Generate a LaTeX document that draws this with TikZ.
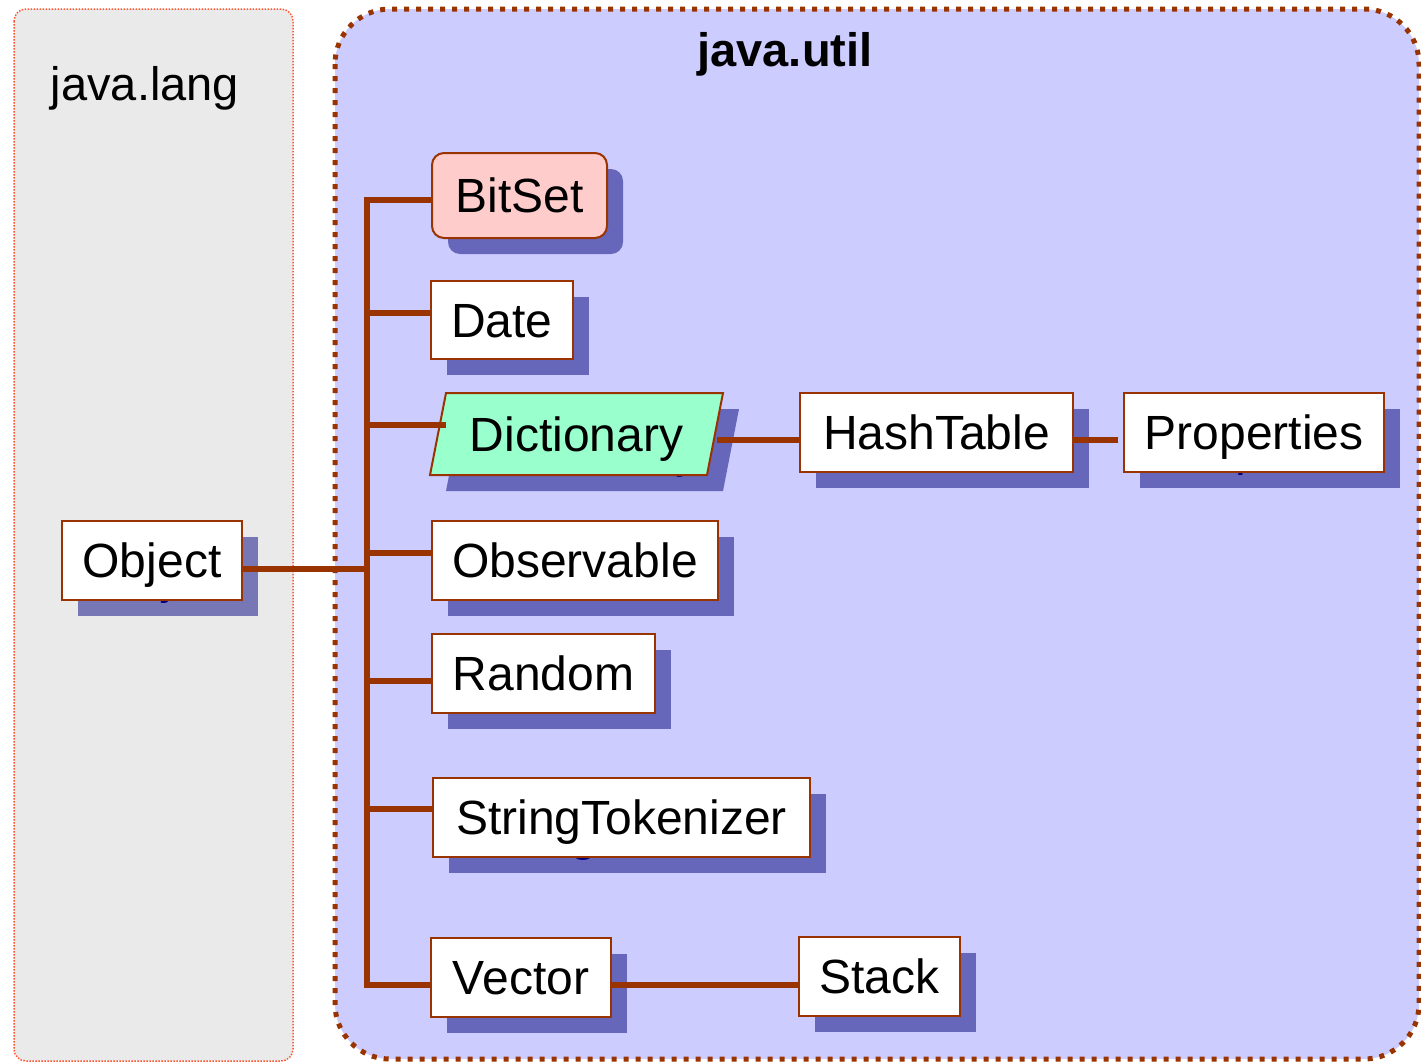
\documentclass[tikz,border=0pt]{standalone}
\usepackage{fontspec}
\setmainfont{Liberation Sans}

\definecolor{wire}{HTML}{993300}
\definecolor{langfill}{HTML}{EAEAEA}
\definecolor{langline}{HTML}{FF5533}
\definecolor{utilfill}{HTML}{CCCCFF}
\definecolor{shadowblue}{HTML}{6666BB}
\definecolor{shadowgray}{HTML}{7777B5}
\definecolor{navytext}{HTML}{000080}
\definecolor{bitsetfill}{HTML}{FFCCCC}
\definecolor{dictfill}{HTML}{99FFCC}

\tikzset{
  wire/.style={draw=wire, line width=5.5pt},
  pkgtitle/.style={font=\fontsize{47}{47}\selectfont, anchor=base, inner sep=0pt},
  boxtext/.style={font=\fontsize{48}{48}\selectfont, inner sep=0pt,
                  text height=34pt, text depth=0pt},
  classbox/.style={boxtext, draw=wire, line width=2pt, text=black},
  shadowbox/.style={boxtext, text=navytext},
  outline/.style={draw=wire, line width=2pt},
}

% #1 name, #2 x, #3 y, #4 width, #5 height, #6 label,
% #7 shape options, #8 face colour, #9 shadow colour
\newcommand\umlclass[9]{%
  \node[shadowbox, #7, fill=#9, minimum width=#4pt, minimum height=#5pt]
    (#1-sh) at (#2+16,#3+16) {#6};
  \node[classbox, #7, fill=#8, minimum width=#4pt, minimum height=#5pt]
    (#1) at (#2,#3) {#6};}

\begin{document}
\begin{tikzpicture}[x=1pt, y=-1pt]
  \useasboundingbox (0,0) rectangle (1421,1063);

  % package frames
  \draw[fill=langfill, draw=langline, line width=1.5pt,
        dash pattern=on 1.5pt off 1.5pt, rounded corners=12pt]
    (14,9) rectangle (293,1061);
  \draw[fill=utilfill, draw=wire, line width=5pt,
        dash pattern=on 5pt off 7pt, rounded corners=55pt]
    (335,9) rectangle (1419,1059);

  \node[pkgtitle] (langtitle) at (145,100) {java.lang};
  \node[pkgtitle, font=\fontsize{47}{47}\selectfont\bfseries] (utiltitle) at (785,66) {java.util};

  % classes
  \umlclass{obj}{152}{560.5}{180}{79}{Object}{}{white}{shadowgray}
  \umlclass{bitset}{519.5}{195.5}{175}{85}{BitSet}{rounded corners=12pt}{bitsetfill}{shadowblue}
  \umlclass{date}{502}{320}{142}{78}{Date}{}{white}{shadowblue}

  % Dictionary: slanted (abstract) class drawn as a parallelogram
  \fill[fill=shadowblue] (462,409) -- (739,409) -- (723,491) -- (446,491) -- cycle;
  \node[shadowbox, minimum width=293pt, minimum height=82pt] (dict-sh) at (592.5,450) {Dictionary};
  \filldraw[outline, fill=dictfill] (446,393) -- (723,393) -- (707,475) -- (430,475) -- cycle;
  \node[boxtext, minimum width=293pt, minimum height=82pt] (dict) at (576.5,434) {Dictionary};

  \umlclass{hash}{936.5}{432.5}{273}{79}{HashTable}{}{white}{shadowblue}
  \umlclass{prop}{1254}{432.5}{260}{79}{Properties}{}{white}{shadowblue}
  \umlclass{obs}{575}{560.5}{286}{79}{Observable}{}{white}{shadowblue}
  \umlclass{rand}{543.5}{673.5}{223}{79}{Random}{}{white}{shadowblue}
  \umlclass{strtok}{621.5}{817.5}{377}{79}{StringTokenizer}{}{white}{shadowblue}
  \umlclass{vector}{521}{977.5}{180}{79}{Vector}{}{white}{shadowblue}
  \umlclass{stack}{879.5}{976.5}{161}{79}{Stack}{}{white}{shadowblue}

  % inheritance tree
  \coordinate (trunk) at (367,569);
  \draw[wire] ([yshift=-8.5pt]obj.east) -- (trunk);
  \draw[wire] ([yshift=-4.5pt]bitset.west) -| (trunk);
  \draw[wire] ([yshift=7pt]date.west) -| (trunk);
  \draw[wire] ([xshift=16pt, yshift=9pt]dict.west) -| (trunk);
  \draw[wire] ([yshift=7.5pt]obs.west) -| (trunk);
  \draw[wire] ([yshift=-7.5pt]rand.west) -| (trunk);
  \draw[wire] ([yshift=8.5pt]strtok.west) -| (trunk);
  \draw[wire] ([yshift=-7.5pt]vector.west) -| (trunk);

  \draw[wire] ([xshift=-6pt, yshift=-6pt]dict.east) -- ([yshift=-6pt]dict.east -| hash.west);
  \draw[wire] ([yshift=-7.5pt]hash.east) -- ([xshift=-5pt, yshift=-7.5pt]hash.east -| prop.west);
  \draw[wire] ([yshift=-7.5pt]vector.east) -- ([yshift=-7.5pt]vector.east -| stack.west);
\end{tikzpicture}
\end{document}
